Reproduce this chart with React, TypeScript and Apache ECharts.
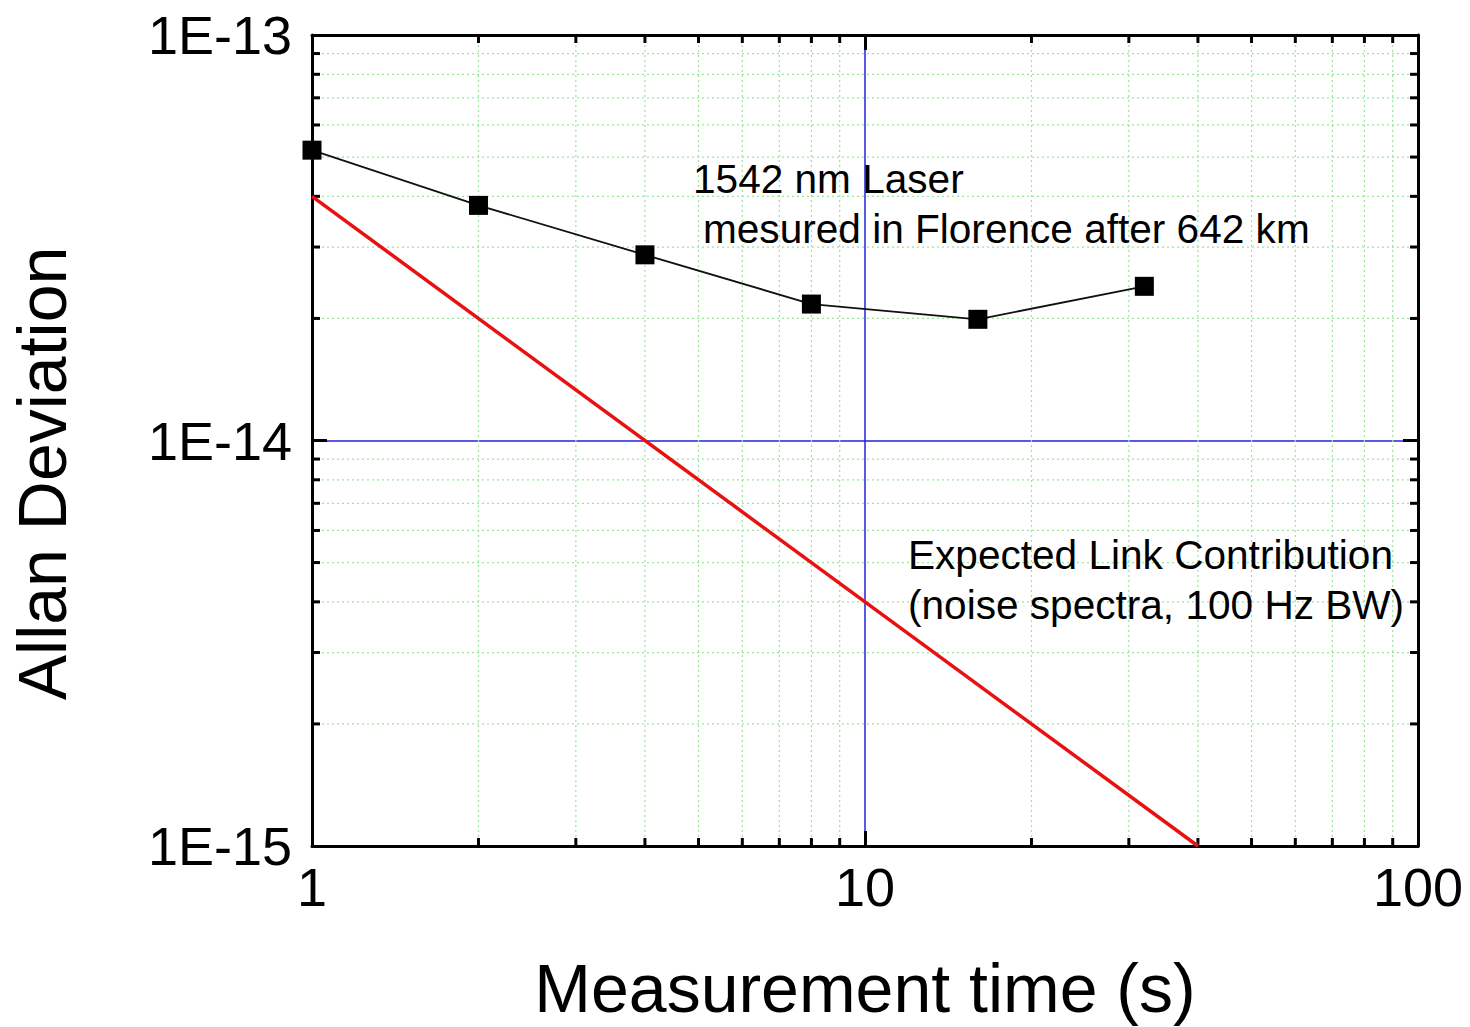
import React, { useEffect, useRef } from "react";
import * as echarts from "echarts";

// Measurement times (s) and Allan deviation of the 1542 nm laser
const tau = [1, 2, 4, 8, 16, 32];
const allanDev = [5.2e-14, 3.8e-14, 2.87e-14, 2.17e-14, 1.99e-14, 2.4e-14];

// Expected link contribution (slope -1 line)
const linkTau = [1, 40];
const linkDev = [4.0e-14, 1.0e-15];

// Axis ranges
const xMin = 1;
const xMax = 100;
const yMin = 1e-15;
const yMax = 1e-13;

// Minor ticks (2..9 per decade)
const xMinor = [2, 3, 4, 5, 6, 7, 8, 9, 20, 30, 40, 50, 60, 70, 80, 90];
const yMinor = [
  2e-15, 3e-15, 4e-15, 5e-15, 6e-15, 7e-15, 8e-15, 9e-15,
  2e-14, 3e-14, 4e-14, 5e-14, 6e-14, 7e-14, 8e-14, 9e-14,
];

const annotations = [
  { text: "1542 nm Laser", left: 693, top: 181 },
  { text: "mesured in Florence after 642 km", left: 703, top: 231 },
  { text: "Expected Link Contribution", left: 908, top: 557 },
  { text: "(noise spectra, 100 Hz BW)", left: 908, top: 607 },
];

const FONT = "'Liberation Sans', Arial, Helvetica, sans-serif";

export default function App() {
  const ref = useRef<HTMLDivElement>(null);

  useEffect(() => {
    document.body.style.margin = "0";
    if (!ref.current) return;
    const chart = echarts.init(ref.current, null, { renderer: "svg" });

    const minorColor = "#9be59b";
    const tickColor = "#000";

    const axisCommon = {
      type: "log" as const,
      logBase: 10,
      axisLine: { show: true, onZero: false, lineStyle: { color: "#000", width: 3 } },
      axisTick: { show: true, inside: true, length: 15, lineStyle: { color: tickColor, width: 3 } },
      splitLine: { show: false },
      minorTick: { show: false },
      minorSplitLine: { show: false },
    };

    const option = {
      animation: false,
      backgroundColor: "#fff",
      grid: { left: 308, top: 35, width: 1110, height: 811, containLabel: false },
      xAxis: [
        {
          ...axisCommon,
          position: "bottom",
          min: xMin,
          max: xMax,
          name: "Measurement time (s)",
          nameLocation: "middle",
          nameGap: 108,
          nameTextStyle: { fontSize: 68, color: "#000", fontFamily: FONT },
          axisLabel: { fontSize: 54, color: "#000", fontFamily: FONT, margin: 14 },
          splitLine: { show: true, lineStyle: { color: "#2222dd", width: 1.5 } },
        },
        {
          ...axisCommon,
          position: "top",
          min: xMin,
          max: xMax,
          axisLabel: { show: false },
        },
      ],
      yAxis: [
        {
          ...axisCommon,
          position: "left",
          min: yMin,
          max: yMax,
          name: "Allan Deviation",
          nameLocation: "middle",
          nameGap: 236,
          nameRotate: 90,
          nameTextStyle: {
            fontSize: 68,
            color: "#000",
            fontFamily: FONT,
            padding: [0, 66, 0, 0],
          },
          axisLabel: {
            fontSize: 54,
            color: "#000",
            fontFamily: FONT,
            margin: 20,
            formatter: (v: number) => "1E" + Math.round(Math.log10(v)),
          },
          splitLine: { show: true, lineStyle: { color: "#2222dd", width: 1.5 } },
        },
        {
          ...axisCommon,
          position: "right",
          min: yMin,
          max: yMax,
          axisLabel: { show: false },
        },
      ],
      graphic: annotations.map((a) => ({
        type: "text",
        left: a.left,
        top: a.top - 23,
        z: 100,
        style: { text: a.text, fontSize: 40.6, fill: "#000", fontFamily: FONT },
      })),
      series: [
        {
          type: "custom",
          name: "xMinor",
          xAxisIndex: 0,
          yAxisIndex: 0,
          z: 1,
          silent: true,
          data: xMinor.map((v) => [v, yMin]),
          renderItem: (params: any, api: any) => {
            const p = api.coord([api.value(0), api.value(1)]);
            const cs = params.coordSys;
            const top = cs.y;
            const bottom = cs.y + cs.height;
            return {
              type: "group",
              children: [
                {
                  type: "line",
                  shape: { x1: p[0], y1: top, x2: p[0], y2: bottom },
                  style: { stroke: minorColor, lineWidth: 1.2, lineDash: [2, 3] },
                },
                {
                  type: "line",
                  shape: { x1: p[0], y1: bottom, x2: p[0], y2: bottom - 8 },
                  style: { stroke: tickColor, lineWidth: 3 },
                },
                {
                  type: "line",
                  shape: { x1: p[0], y1: top, x2: p[0], y2: top + 8 },
                  style: { stroke: tickColor, lineWidth: 3 },
                },
              ],
            };
          },
        },
        {
          type: "custom",
          name: "yMinor",
          xAxisIndex: 0,
          yAxisIndex: 0,
          z: 1,
          silent: true,
          data: yMinor.map((v) => [xMin, v]),
          renderItem: (params: any, api: any) => {
            const p = api.coord([api.value(0), api.value(1)]);
            const cs = params.coordSys;
            const left = cs.x;
            const right = cs.x + cs.width;
            return {
              type: "group",
              children: [
                {
                  type: "line",
                  shape: { x1: left, y1: p[1], x2: right, y2: p[1] },
                  style: { stroke: minorColor, lineWidth: 1.2, lineDash: [2, 3] },
                },
                {
                  type: "line",
                  shape: { x1: left, y1: p[1], x2: left + 8, y2: p[1] },
                  style: { stroke: tickColor, lineWidth: 3 },
                },
                {
                  type: "line",
                  shape: { x1: right, y1: p[1], x2: right - 8, y2: p[1] },
                  style: { stroke: tickColor, lineWidth: 3 },
                },
              ],
            };
          },
        },
        {
          type: "line",
          name: "Expected Link Contribution",
          xAxisIndex: 0,
          yAxisIndex: 0,
          z: 5,
          data: linkTau.map((t, i) => [t, linkDev[i]]),
          showSymbol: false,
          symbol: "none",
          lineStyle: { color: "#e81010", width: 3.5 },
          clip: true,
        },
        {
          type: "line",
          name: "1542 nm Laser",
          xAxisIndex: 0,
          yAxisIndex: 0,
          z: 6,
          data: tau.map((t, i) => [t, allanDev[i]]),
          symbol: "rect",
          symbolSize: 19,
          itemStyle: { color: "#000" },
          lineStyle: { color: "#111", width: 1.8 },
          clip: false,
        },
      ],
    };

    chart.setOption(option as any);
    return () => chart.dispose();
  }, []);

  return (
    <div
      ref={ref}
      style={{ position: "absolute", left: 0, top: 0, width: 1470, height: 1027 }}
    />
  );
}
